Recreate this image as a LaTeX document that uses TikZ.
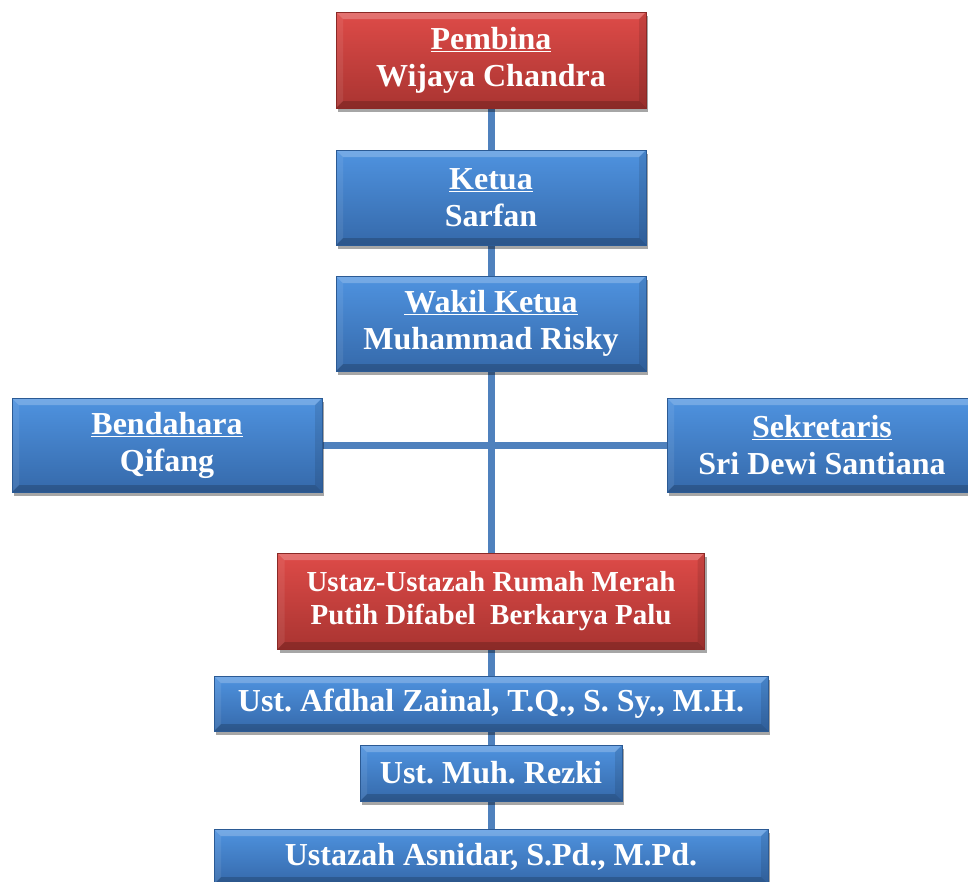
\documentclass[tikz,border=0pt]{standalone}
\usepackage{fontspec}
\setmainfont{Liberation Serif}
\frenchspacing
\usetikzlibrary{shadows,backgrounds}
\definecolor{connc}{HTML}{4F81BD}
\definecolor{bluetop}{HTML}{4F93E0}
\definecolor{bluebot}{HTML}{3569AA}
\definecolor{blueedge}{HTML}{2B5A94}
\definecolor{redtop}{HTML}{DE4B48}
\definecolor{redbot}{HTML}{A93431}
\definecolor{rededge}{HTML}{8A2926}
\tikzset{
 box/.style={rectangle, inner sep=0pt, align=center, text=white,
   font=\bfseries\fontsize{32}{37}\selectfont,
   draw=blueedge, line width=0.8pt, top color=bluetop, bottom color=bluebot,
   drop shadow={shadow xshift=2pt, shadow yshift=-4pt, opacity=0.35, fill=black},
   path picture={
     \fill[white,opacity=0.22] (path picture bounding box.north west) -- (path picture bounding box.north east)
       -- ([xshift=-7pt,yshift=-7pt]path picture bounding box.north east) -- ([xshift=7pt,yshift=-7pt]path picture bounding box.north west) -- cycle;
     \fill[black,opacity=0.18] (path picture bounding box.south west) -- (path picture bounding box.south east)
       -- ([xshift=-7pt,yshift=7pt]path picture bounding box.south east) -- ([xshift=7pt,yshift=7pt]path picture bounding box.south west) -- cycle;
     \fill[black,opacity=0.10] (path picture bounding box.north east) -- (path picture bounding box.south east)
       -- ([xshift=-7pt,yshift=7pt]path picture bounding box.south east) -- ([xshift=-7pt,yshift=-7pt]path picture bounding box.north east) -- cycle;
     \fill[white,opacity=0.08] (path picture bounding box.north west) -- (path picture bounding box.south west)
       -- ([xshift=7pt,yshift=7pt]path picture bounding box.south west) -- ([xshift=7pt,yshift=-7pt]path picture bounding box.north west) -- cycle;
   }},
 redbox/.style={box, draw=rededge, top color=redtop, bottom color=redbot},
 connline/.style={draw=connc, line width=7pt}
}
\begin{document}
\begin{tikzpicture}[x=1pt,y=-1pt]
\useasboundingbox (0,0) rectangle (968,881);
\node[redbox, minimum width=310pt, minimum height=96pt] (pembina) at (491,60) {\underline{Pembina}\\Wijaya Chandra};
\node[box, minimum width=310pt, minimum height=95pt] (ketua) at (491,197.5) {\underline{Ketua}\\Sarfan};
\node[box, minimum width=310pt, minimum height=95pt] (wakil) at (491,323.5) {\underline{Wakil Ketua}\\Muhammad Risky};
\node[box, minimum width=310pt, minimum height=94pt] (bendahara) at (167,445) {\underline{Bendahara}\\Qifang};
\node[box, minimum width=310pt, minimum height=94pt] (sekretaris) at (822,445) {\underline{Sekretaris}\\Sri Dewi Santiana};
\node[redbox, minimum width=427pt, minimum height=96pt, font=\bfseries\fontsize{29}{33}\selectfont] (ustaz) at (491,601) {Ustaz-Ustazah Rumah Merah\\Putih Difabel\ \ Berkarya Palu};
\node[box, minimum width=554pt, minimum height=55pt] (afdhal) at (491,703.5) {Ust. Afdhal Zainal, T.Q., S. Sy., M.H.};
\node[box, minimum width=262pt, minimum height=56pt] (rezki) at (491,773) {Ust. Muh. Rezki};
\node[box, minimum width=554pt, minimum height=55pt] (asnidar) at (491,856.5) {Ustazah Asnidar, S.Pd., M.Pd.};
\begin{scope}[on background layer]
\fill[white] (0,0) rectangle (968,881);
\draw[connline] (bendahara) -- (sekretaris);
\draw[connline] (pembina) -- (ketua);
\draw[connline] (ketua) -- (wakil);
\draw[connline] (wakil) -- (ustaz);
\draw[connline] (ustaz) -- (afdhal);
\draw[connline] (afdhal) -- (rezki);
\draw[connline] (rezki) -- (asnidar);
\end{scope}
\end{tikzpicture}
\end{document}
